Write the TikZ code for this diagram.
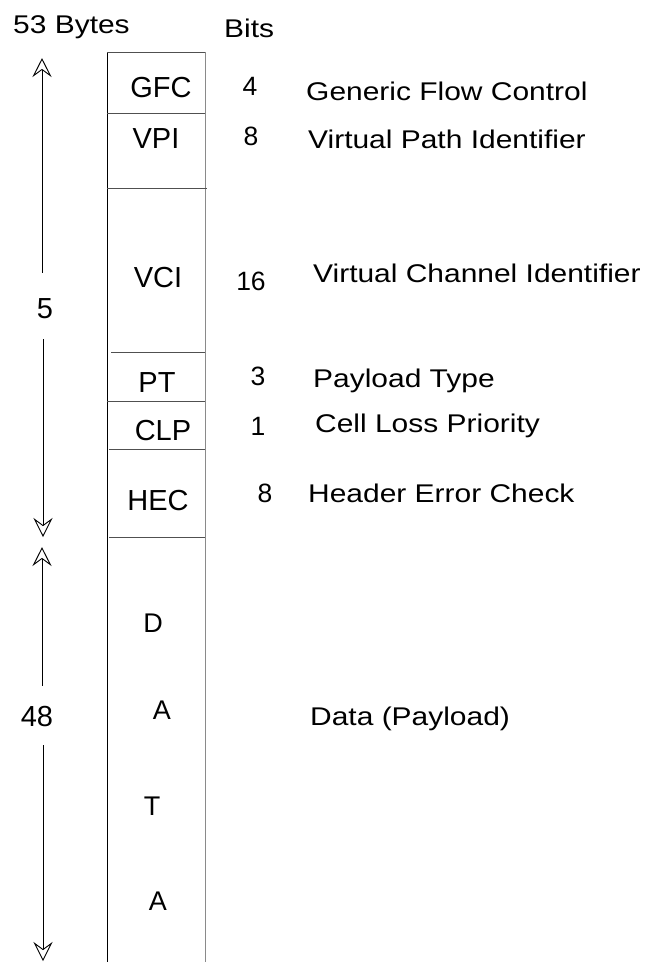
\documentclass[tikz,border=0pt]{standalone}
\usepackage{fontspec}
\setmainfont{Liberation Sans}
\newfontfamily\widesans[FakeStretch=1.17]{Liberation Sans}
\usepackage{tikz}
\usetikzlibrary{arrows.meta, positioning, calc}
\definecolor{edgegray}{HTML}{8A8A8A}
\definecolor{rulegray}{HTML}{505050}

\tikzset{
  field/.style={font=\fontsize{29}{34}\selectfont, anchor=base, inner sep=0pt},
  letter/.style={font=\fontsize{27}{32}\selectfont, anchor=base, inner sep=0pt},
  bitnum/.style={font=\fontsize{26.5}{31}\selectfont, anchor=base, inner sep=0pt},
  desc/.style={font=\widesans\fontsize{25.6}{30}\selectfont, anchor=base west, inner sep=0pt},
  sizearrow/.style={-{Stealth[open, length=19pt, width=19pt, inset=7pt]}, line width=0.9pt},
}

\begin{document}
\begin{tikzpicture}[x=1pt, y=-1pt]
        \useasboundingbox (0,0) rectangle (649,962);
        % the cell column
        \draw[line width=1pt] (107,52) -- (107,962);
        \draw[edgegray, line width=1pt] (205,52) -- (205,962);
        \draw[rulegray, line width=0.9pt] (107,52) -- (205,52);
        \foreach \ya/\xa/\xb in {113/107/205, 188/107/207, 352/111/205,
                                 401/107/205, 449/109/205, 537/109/205}
          \draw[rulegray, line width=0.9pt] (\xa,\ya) -- (\xb,\ya);
        % headings
        \node[desc] (bytes) at (13,33) {53 Bytes};
        \node[desc] (bits) at (224,37) {Bits};
        % header fields
        \node[field] (gfc) at (161,97) {GFC};
        \node[field] (vpi) at (156,148) {VPI};
        \node[field] (vci) at (158,287) {VCI};
        \node[field] (pt) at (157,392) {PT};
        \node[field] (clp) at (163,440) {CLP};
        \node[field] (hec) at (158,510) {HEC};
        % payload letters
        \node[letter] (d1) at (153,632) {D};
        \node[letter] (a1) at (162,719) {A};
        \node[letter] (t1) at (152,815) {T};
        \node[letter] (a2) at (158,910) {A};
        % bit counts
        \node[bitnum] (gfcbits) at (250,95) {4};
        \node[bitnum] (vpibits) at (251,145) {8};
        \node[bitnum] (vcibits) at (251,290) {16};
        \node[bitnum] (ptbits) at (258,385) {3};
        \node[bitnum] (clpbits) at (258,435) {1};
        \node[bitnum] (hecbits) at (265,502) {8};
        % meanings
        \node[desc] (gfcname) at (306,100) {Generic Flow Control};
        \node[desc] (vpiname) at (308,148) {Virtual Path Identifier};
        \node[desc] (vciname) at (313,282) {Virtual Channel Identifier};
        \node[desc] (ptname) at (313,387) {Payload Type};
        \node[desc] (clpname) at (315,432) {Cell Loss Priority};
        \node[desc] (hecname) at (308,502) {Header Error Check};
        \node[desc] (dataname) at (310,725) {Data (Payload)};
        % byte counts with their arrows
        \node[field] (hdrbytes) at (45,318) {5};
        \node[field] (databytes) at (37,726) {48};
        \coordinate (hdrtop) at (42,58);
        \coordinate (hdrbot) at (43,537);
        \coordinate (datatop) at (42,547);
        \coordinate (databot) at (43,961);
        \draw[sizearrow, shorten <=25pt] (hdrbytes.north -| hdrtop) -- (hdrtop);
        \draw[sizearrow, shorten <=21pt] (hdrbytes.base -| hdrbot) -- (hdrbot);
        \draw[sizearrow, shorten <=20pt] (databytes.north -| datatop) -- (datatop);
        \draw[sizearrow, shorten <=19pt] (databytes.base -| databot) -- (databot);
      \end{tikzpicture}
\end{document}
